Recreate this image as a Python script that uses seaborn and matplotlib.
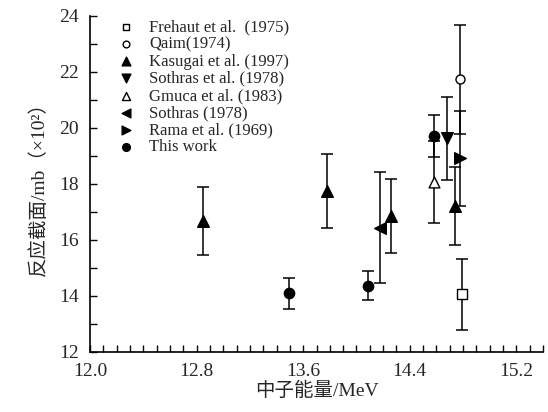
import matplotlib
matplotlib.use("Agg")
import matplotlib.pyplot as plt
import seaborn as sns
import numpy as np
from matplotlib.ticker import MultipleLocator, FormatStrFormatter

# ---- data ----
frehaut_x = [14.79]; frehaut_y = [14.06]; frehaut_e = [1.27]
qaim_x = [14.78]; qaim_y = [21.74]; qaim_e = [1.95]
kasugai_x = [12.85, 13.78, 14.26, 14.74]
kasugai_y = [16.68, 17.75, 16.86, 17.21]
kasugai_e = [1.23, 1.32, 1.31, 1.40]
sothras_al_x = [14.68]; sothras_al_y = [19.63]; sothras_al_e = [1.47]
gmuca_x = [14.58]; gmuca_y = [18.08]; gmuca_e = [1.46]
sothras_x = [14.18]; sothras_y = [16.44]; sothras_e = [1.98]
rama_x = [14.78]; rama_y = [18.92]; rama_e = [1.70]
work_x = [13.49, 14.09, 14.58]
work_y = [14.10, 14.36, 19.71]
work_e = [0.55, 0.52, 0.75]

labels = ["Frehaut et al.  (1975)", "Qaim(1974)", "Kasugai et al. (1997)",
          "Sothras et al. (1978)", "Gmuca et al. (1983)", "Sothras (1978)",
          "Rama et al. (1969)", "This work"]
series = [
    (frehaut_x, frehaut_y, frehaut_e, "s", False, 42),
    (qaim_x, qaim_y, qaim_e, "o", False, 42),
    (kasugai_x, kasugai_y, kasugai_e, "^", True, 70),
    (sothras_al_x, sothras_al_y, sothras_al_e, "v", True, 70),
    (gmuca_x, gmuca_y, gmuca_e, "^", False, 60),
    (sothras_x, sothras_y, sothras_e, "<", True, 70),
    (rama_x, rama_y, rama_e, ">", True, 70),
    (work_x, work_y, work_e, "o", True, 55),
]

sns.set_theme(style="ticks")
plt.rcParams["font.family"] = ["Liberation Serif", "Noto Sans CJK SC"]

fig = plt.figure(figsize=(5.48, 4.12), dpi=100)
ax = fig.add_axes([90/548, 1-352/412, 453/548, 336/412])

for (xs, ys, es, mk, filled, sz), lab in zip(series, labels):
    ax.errorbar(xs, ys, yerr=es, fmt="none", ecolor="black", elinewidth=1.1,
                capsize=4, capthick=1.1, zorder=2)
    sns.scatterplot(x=xs, y=ys, marker=mk, s=sz, ax=ax, label=lab,
                    color="black" if filled else "white",
                    edgecolor="black", linewidth=1.0, zorder=3)

ax.set_xlim(12.0, 15.4)
ax.set_ylim(12, 24)
ax.xaxis.set_major_locator(MultipleLocator(0.8))
ax.xaxis.set_minor_locator(MultipleLocator(0.1))
ax.xaxis.set_major_formatter(FormatStrFormatter("%.1f"))
ax.yaxis.set_major_locator(MultipleLocator(2))
ax.yaxis.set_minor_locator(MultipleLocator(1))
ax.tick_params(which="both", direction="in", width=1.0, color="black",
               labelsize=14, pad=8)
ax.tick_params(which="major", length=5)
ax.tick_params(which="minor", length=5)
for s in ["top", "right"]:
    ax.spines[s].set_visible(False)
for s in ["left", "bottom"]:
    ax.spines[s].set_linewidth(1.2)
    ax.spines[s].set_color("black")

ax.set_xlabel("中子能量/MeV", fontsize=14, labelpad=1)
ax.set_ylabel("反应截面/mb（×10²）", fontsize=14, labelpad=8)

leg = ax.legend(loc="upper left", bbox_to_anchor=(0.035, 1.025), frameon=False,
                fontsize=12, handletextpad=0.9, labelspacing=0.07,
                borderpad=0.2, handlelength=1.0, markerscale=0.75)

fig.savefig("out.png", dpi=100)
